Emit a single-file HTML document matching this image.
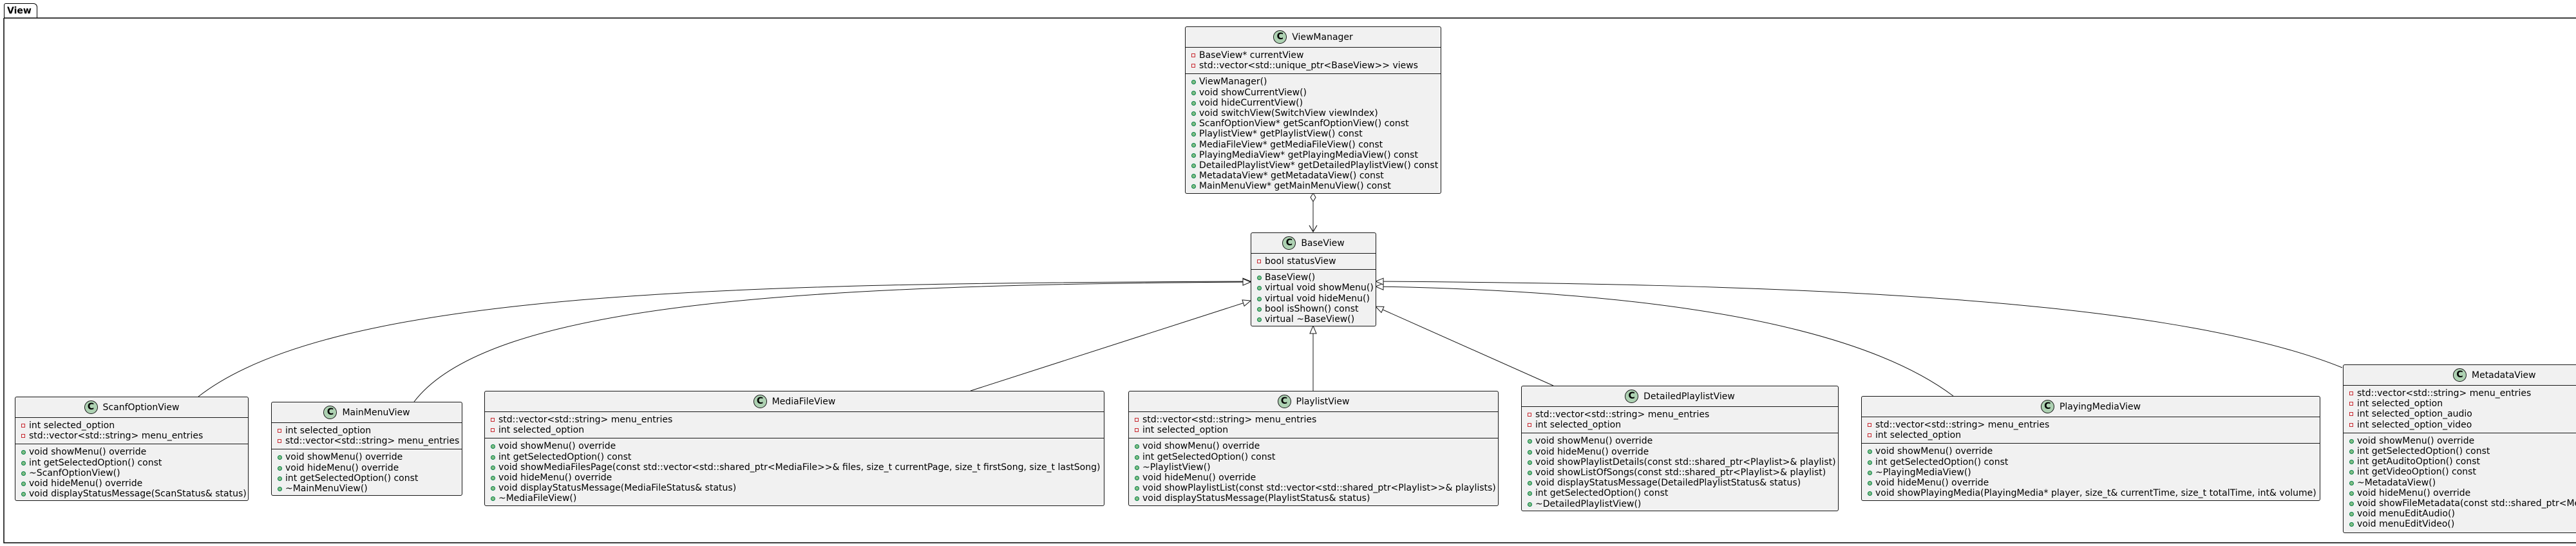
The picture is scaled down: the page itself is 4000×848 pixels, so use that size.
<!DOCTYPE html>
<html><head><meta charset="utf-8">
<style>
html,body{margin:0;padding:0;background:#fff;}
body{width:4000px;height:848px;position:relative;overflow:hidden;font-family:"DejaVu Sans","Liberation Sans",sans-serif;font-size:14px;color:#000;}
.box{position:absolute;background:#F1F1F1;border:1px solid #181818;border-radius:3px;box-sizing:border-box;}
.hd{position:relative;height:31px;border-bottom:1px solid #181818;display:flex;justify-content:center;align-items:center;white-space:nowrap;}
.hd .c{width:21px;height:21px;border-radius:50%;background:#ADD1B2;border:1px solid #181818;box-sizing:border-box;font-weight:bold;font-size:14px;line-height:19px;text-align:center;margin-right:8px;}
.sec{padding:4px 0 4px 0;border-bottom:1px solid #181818;}
.sec:last-child{border-bottom:none;}
.r{position:relative;height:16.2px;line-height:16.2px;padding-left:21px;white-space:nowrap;}
.p:before{content:"";position:absolute;left:9px;top:5px;width:6px;height:6px;border:1px solid #C82930;box-sizing:border-box;}
.u:before{content:"";position:absolute;left:9px;top:5px;width:7px;height:7px;border-radius:50%;background:#84BE84;border:1px solid #038048;box-sizing:border-box;}
.tab{position:absolute;left:6px;top:5px;width:52px;height:23px;border:1px solid #000;border-bottom:none;border-radius:3px 6px 0 0;font-weight:bold;font-size:14px;line-height:22px;padding-left:4px;box-sizing:border-box;}
</style></head><body>
<svg width="4000" height="848" style="position:absolute;left:0;top:0">
<defs>
<marker id="tri" markerWidth="14" markerHeight="14" refX="13" refY="6" orient="auto" markerUnits="userSpaceOnUse">
<path d="M1,1 L13,6 L1,11 Z" fill="#fff" stroke="#181818" stroke-width="1"/>
</marker>
</defs>
<path d="M6,28 H4000 M6,28 V843 H4000" fill="none" stroke="#000" stroke-width="1.5"/>
<!-- aggregation -->
<line x1="2039" y1="313" x2="2039" y2="360" stroke="#181818" stroke-width="1"/>
<path d="M2039,300 L2043,306.5 L2039,313 L2035,306.5 Z" fill="#fff" stroke="#181818"/>
<path d="M2033,350 L2039,360 L2045,350" fill="none" stroke="#181818" stroke-width="1.2"/>
<!-- inheritance -->
<g fill="none" stroke="#181818" stroke-width="1">
<path d="M308,616 C520,450 1150,440 1942,437" marker-end="url(#tri)"/>
<path d="M643,624 C760,470 1250,442 1942,438" marker-end="url(#tri)"/>
<path d="M1507,607 L1942,467" marker-end="url(#tri)"/>
<path d="M2039,607 L2039,506" marker-end="url(#tri)"/>
<path d="M2412,599 L2136,476" marker-end="url(#tri)"/>
<path d="M3033,615 C2880,500 2550,452 2136,445" marker-end="url(#tri)"/>
<path d="M3637,571 C3350,455 2700,441 2136,437" marker-end="url(#tri)"/>
</g>
</svg>
<div class="tab">View</div>

<div class="box" style="left:1840px;top:41px;width:398px;height:260px">
<div class="hd"><span class="c">C</span>ViewManager</div>
<div class="sec"><div class="r p">BaseView* currentView</div><div class="r p">std::vector&lt;std::unique_ptr&lt;BaseView&gt;&gt; views</div></div>
<div class="sec">
<div class="r u">ViewManager()</div><div class="r u">void showCurrentView()</div><div class="r u">void hideCurrentView()</div><div class="r u">void switchView(SwitchView viewIndex)</div><div class="r u">ScanfOptionView* getScanfOptionView() const</div><div class="r u">PlaylistView* getPlaylistView() const</div><div class="r u">MediaFileView* getMediaFileView() const</div><div class="r u">PlayingMediaView* getPlayingMediaView() const</div><div class="r u">DetailedPlaylistView* getDetailedPlaylistView() const</div><div class="r u">MetadataView* getMetadataView() const</div><div class="r u">MainMenuView* getMainMenuView() const</div>
</div></div>

<div class="box" style="left:1942px;top:361px;width:195px;height:146px">
<div class="hd"><span class="c">C</span>BaseView</div>
<div class="sec"><div class="r p">bool statusView</div></div>
<div class="sec"><div class="r u">BaseView()</div><div class="r u">virtual void showMenu()</div><div class="r u">virtual void hideMenu()</div><div class="r u">bool isShown() const</div><div class="r u">virtual ~BaseView()</div></div>
</div>

<div class="box" style="left:23px;top:616px;width:363px;height:162px">
<div class="hd"><span class="c">C</span>ScanfOptionView</div>
<div class="sec"><div class="r p">int selected_option</div><div class="r p">std::vector&lt;std::string&gt; menu_entries</div></div>
<div class="sec"><div class="r u">void showMenu() override</div><div class="r u">int getSelectedOption() const</div><div class="r u">~ScanfOptionView()</div><div class="r u">void hideMenu() override</div><div class="r u">void displayStatusMessage(ScanStatus&amp; status)</div></div>
</div>

<div class="box" style="left:421px;top:624px;width:297px;height:146px">
<div class="hd"><span class="c">C</span>MainMenuView</div>
<div class="sec"><div class="r p">int selected_option</div><div class="r p">std::vector&lt;std::string&gt; menu_entries</div></div>
<div class="sec"><div class="r u">void showMenu() override</div><div class="r u">void hideMenu() override</div><div class="r u">int getSelectedOption() const</div><div class="r u">~MainMenuView()</div></div>
</div>

<div class="box" style="left:752px;top:607px;width:963px;height:179px">
<div class="hd"><span class="c">C</span>MediaFileView</div>
<div class="sec"><div class="r p">std::vector&lt;std::string&gt; menu_entries</div><div class="r p">int selected_option</div></div>
<div class="sec"><div class="r u">void showMenu() override</div><div class="r u">int getSelectedOption() const</div><div class="r u">void showMediaFilesPage(const std::vector&lt;std::shared_ptr&lt;MediaFile&gt;&gt;&amp; files, size_t currentPage, size_t firstSong, size_t lastSong)</div><div class="r u">void hideMenu() override</div><div class="r u">void displayStatusMessage(MediaFileStatus&amp; status)</div><div class="r u">~MediaFileView()</div></div>
</div>

<div class="box" style="left:1752px;top:607px;width:575px;height:179px">
<div class="hd"><span class="c">C</span>PlaylistView</div>
<div class="sec"><div class="r p">std::vector&lt;std::string&gt; menu_entries</div><div class="r p">int selected_option</div></div>
<div class="sec"><div class="r u">void showMenu() override</div><div class="r u">int getSelectedOption() const</div><div class="r u">~PlaylistView()</div><div class="r u">void hideMenu() override</div><div class="r u">void showPlaylistList(const std::vector&lt;std::shared_ptr&lt;Playlist&gt;&gt;&amp; playlists)</div><div class="r u">void displayStatusMessage(PlaylistStatus&amp; status)</div></div>
</div>

<div class="box" style="left:2362px;top:599px;width:493px;height:195px">
<div class="hd"><span class="c">C</span>DetailedPlaylistView</div>
<div class="sec"><div class="r p">std::vector&lt;std::string&gt; menu_entries</div><div class="r p">int selected_option</div></div>
<div class="sec"><div class="r u">void showMenu() override</div><div class="r u">void hideMenu() override</div><div class="r u">void showPlaylistDetails(const std::shared_ptr&lt;Playlist&gt;&amp; playlist)</div><div class="r u">void showListOfSongs(const std::shared_ptr&lt;Playlist&gt;&amp; playlist)</div><div class="r u">void displayStatusMessage(DetailedPlaylistStatus&amp; status)</div><div class="r u">int getSelectedOption() const</div><div class="r u">~DetailedPlaylistView()</div></div>
</div>

<div class="box" style="left:2890px;top:615px;width:713px;height:163px">
<div class="hd"><span class="c">C</span>PlayingMediaView</div>
<div class="sec"><div class="r p">std::vector&lt;std::string&gt; menu_entries</div><div class="r p">int selected_option</div></div>
<div class="sec"><div class="r u">void showMenu() override</div><div class="r u">int getSelectedOption() const</div><div class="r u">~PlayingMediaView()</div><div class="r u">void hideMenu() override</div><div class="r u">void showPlayingMedia(PlayingMedia* player, size_t&amp; currentTime, size_t totalTime, int&amp; volume)</div></div>
</div>

<div class="box" style="left:3638px;top:566px;width:600px;height:262px">
<div class="hd" style="justify-content:flex-start;padding-left:0"><span style="display:inline-block;width:0"></span><span style="position:absolute;left:170px;top:5px;display:flex;align-items:center"><span class="c">C</span>MetadataView</span></div>
<div class="sec"><div class="r p">std::vector&lt;std::string&gt; menu_entries</div><div class="r p">int selected_option</div><div class="r p">int selected_option_audio</div><div class="r p">int selected_option_video</div></div>
<div class="sec"><div class="r u">void showMenu() override</div><div class="r u">int getSelectedOption() const</div><div class="r u">int getAuditoOption() const</div><div class="r u">int getVideoOption() const</div><div class="r u">~MetadataView()</div><div class="r u">void hideMenu() override</div><div class="r u">void showFileMetadata(const std::shared_ptr&lt;MediaFile&gt;&amp; file)</div><div class="r u">void menuEditAudio()</div><div class="r u">void menuEditVideo()</div></div>
</div>
</body></html>
